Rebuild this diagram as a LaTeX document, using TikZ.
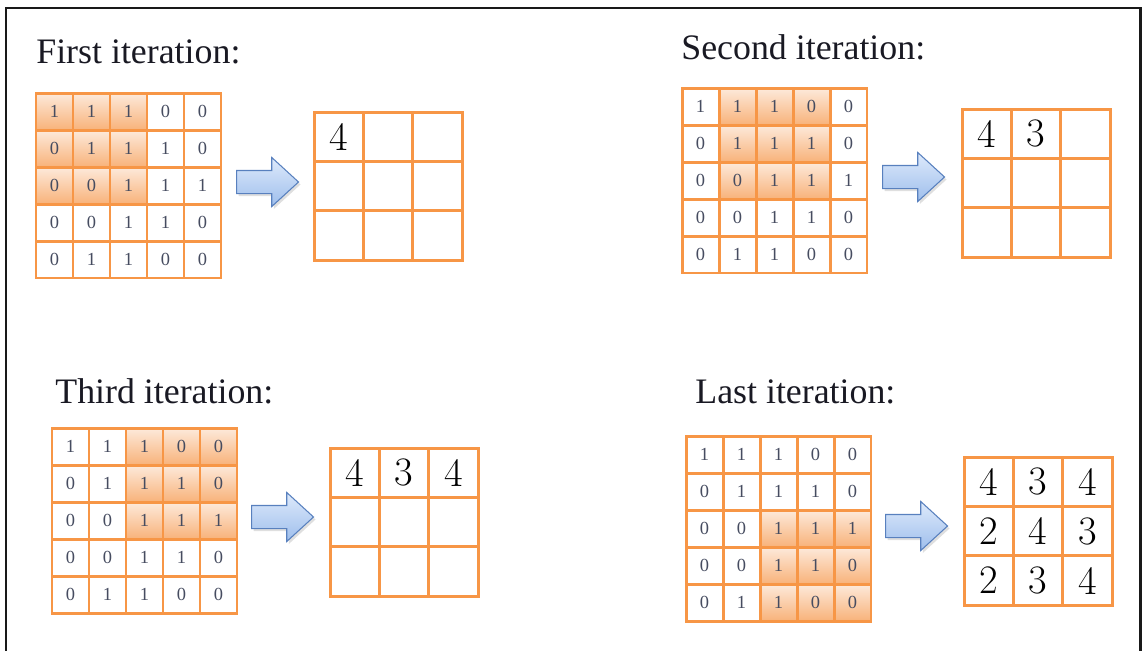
\documentclass[tikz,border=0pt]{standalone}
\usepackage{fontspec}
\usetikzlibrary{shapes.arrows,shadows}
\newfontfamily\timesfont{Liberation Serif}

\definecolor{gridorange}{RGB}{247,150,70}
\definecolor{hitop}{RGB}{253,234,219}
\definecolor{hibot}{RGB}{248,178,122}
\definecolor{celltext}{RGB}{70,76,96}
\definecolor{arrowtop}{RGB}{222,234,251}
\definecolor{arrowbot}{RGB}{158,190,236}
\definecolor{arrowline}{RGB}{88,128,190}
\definecolor{titletext}{RGB}{25,25,35}

\tikzset{
  incell/.style={draw=gridorange,line width=1.7pt,minimum size=0.74cm,inner sep=0pt,
    text=celltext,font=\timesfont\fontsize{10.5}{10.5}\selectfont},
  hicell/.style={incell,top color=hitop,bottom color=hibot},
  outcell/.style={draw=gridorange,line width=1.7pt,minimum size=0.988cm,inner sep=0pt,
    font=\fontsize{23}{23}\selectfont},
  blockarrow/.style={single arrow,anchor=west,draw=arrowline,line width=0.6pt,top color=arrowtop,bottom color=arrowbot,
    minimum height=1.24cm,single arrow head extend=0.26cm,single arrow tip angle=85,
    inner xsep=0pt,inner ysep=0.22cm,
    drop shadow={opacity=0.25,shadow xshift=0.04cm,shadow yshift=-0.05cm}},
  itertitle/.style={anchor=base west,inner sep=0pt,text=titletext,font=\timesfont\fontsize{20.4}{20.4}\selectfont}
}

% 5x5 input, #1,#2 top left, #3 name, #4 first shaded row, #5 first shaded column
\newcommand{\kgrid}[5]{%
  \foreach \v [count=\k from 0] in {1,1,1,0,0, 0,1,1,1,0, 0,0,1,1,1, 0,0,1,1,0, 0,1,1,0,0}{
    \pgfmathtruncatemacro{\r}{\k/5}
    \pgfmathtruncatemacro{\c}{\k-5*\r}
    \def\hl{0}
    \ifnum\r<#4 \else\ifnum\r>\numexpr#4+2\relax \else
      \ifnum\c<#5 \else\ifnum\c>\numexpr#5+2\relax \else\def\hl{1}\fi\fi\fi\fi
    \ifnum\hl=1
      \node[hicell] (#3-\r-\c) at ({#1+18.5+37*\c},{#2+18.5+37*\r}) {\v};
    \else
      \node[incell] (#3-\r-\c) at ({#1+18.5+37*\c},{#2+18.5+37*\r}) {\v};
    \fi
  }
}

% 3x3 output, #1,#2 top left, #3 name, #4 values
\newcommand{\ogrid}[4]{%
  \foreach \v [count=\k from 0] in {#4}{
    \pgfmathtruncatemacro{\r}{\k/3}
    \pgfmathtruncatemacro{\c}{\k-3*\r}
    \node[outcell] (#3-\r-\c) at ({#1+24.7+49.4*\c},{#2+24.7+49.4*\r}) {\v};
  }
}

\begin{document}
\begin{tikzpicture}[x=0.02cm,y=-0.02cm]
\useasboundingbox (0,0) rectangle (1143,650);
\draw[line width=1.7pt,black!90] (6,652) -- (6,8) -- (1140,8) -- (1140,652);

% first iteration
\node[itertitle] (title1) at (36,63) {First iteration:};
\kgrid{36}{93}{inA}{0}{0}
\node[blockarrow] (arrA) at (236,182) {};
\ogrid{314}{112}{outA}{4,{},{},{},{},{},{},{},{}}

% second iteration
\node[itertitle] (title2) at (681,59) {Second iteration:};
\kgrid{682}{88}{inB}{0}{1}
\node[blockarrow] (arrB) at (882,177) {};
\ogrid{962}{109}{outB}{4,3,{},{},{},{},{},{},{}}

% third iteration
\node[itertitle] (title3) at (55,403) {Third iteration:};
\kgrid{52}{428}{inC}{0}{2}
\node[blockarrow] (arrC) at (251,517) {};
\ogrid{330}{448}{outC}{4,3,4,{},{},{},{},{},{}}

% last iteration
\node[itertitle] (title4) at (695,403) {Last iteration:};
\kgrid{686}{436}{inD}{2}{2}
\node[blockarrow] (arrD) at (885,526) {};
\ogrid{964}{457}{outD}{4,3,4,2,4,3,2,3,4}
\end{tikzpicture}
\end{document}
